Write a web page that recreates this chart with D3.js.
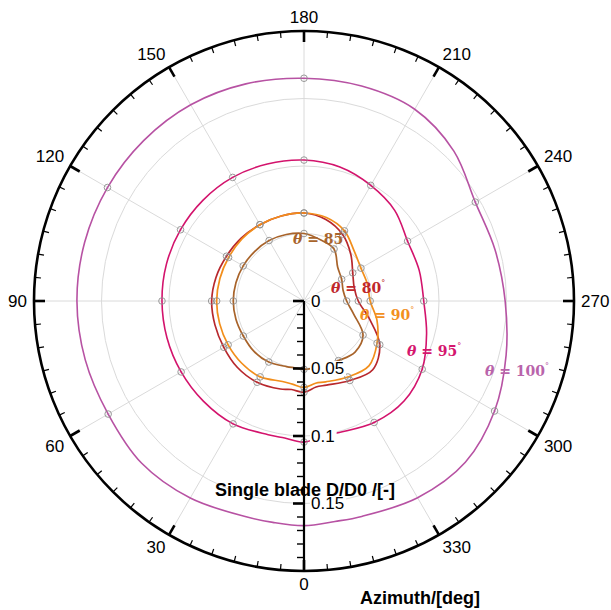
<!DOCTYPE html>
<html>
<head>
<meta charset="utf-8">
<script src="https://cdn.jsdelivr.net/npm/d3@7"></script>
<style>
  html, body { margin: 0; padding: 0; background: #ffffff; }
  svg { display: block; }
</style>
</head>
<body>
<svg id="chart" width="611" height="610"></svg>
<script>
// Azimuth positions (deg) at which the normalised blade D/D0 is sampled
const azimuth = [0, 8, 15, 30, 45, 60, 75, 90, 105, 120, 135, 150, 165, 180,
                 195, 210, 225, 240, 255, 270, 285, 300, 315, 330, 345, 352];

// Single blade D/D0 for each pitch angle theta
const theta80 = [0.0676, 0.0662, 0.0675, 0.0695, 0.0697, 0.0686, 0.0683, 0.0684, 0.0675, 0.0663, 0.0658, 0.0653, 0.0652,
                 0.0652, 0.0625, 0.0570, 0.0490, 0.0417, 0.0385, 0.0402, 0.0500, 0.0648, 0.0720, 0.0680, 0.0645, 0.0643];
const theta85 = [0.0506, 0.0500, 0.0503, 0.0522, 0.0526, 0.0519, 0.0522, 0.0524, 0.0522, 0.0520, 0.0518, 0.0517, 0.0510,
                 0.0500, 0.0470, 0.0445, 0.0353, 0.0322, 0.0300, 0.0316, 0.0382, 0.0505, 0.0535, 0.0510, 0.0500, 0.0502];
const theta90 = [0.0640, 0.0622, 0.0617, 0.0649, 0.0652, 0.0649, 0.0647, 0.0647, 0.0645, 0.0645, 0.0650, 0.0653, 0.0652,
                 0.0652, 0.0640, 0.0600, 0.0525, 0.0487, 0.0486, 0.0490, 0.0560, 0.0625, 0.0680, 0.0650, 0.0620, 0.0615];
const theta95 = [0.1045, 0.1025, 0.1025, 0.1051, 0.1052, 0.1051, 0.1051, 0.1052, 0.1055, 0.1056, 0.1057, 0.1057, 0.1050,
                 0.1044, 0.1027, 0.0989, 0.0950, 0.0886, 0.0883, 0.0887, 0.0940, 0.1011, 0.1048, 0.1039, 0.1008, 0.1010];
const theta100 = [0.1664, 0.1656, 0.1655, 0.1685, 0.1700, 0.1675, 0.1678, 0.1682, 0.1682, 0.1681, 0.1680, 0.1678, 0.1665,
                  0.1650, 0.1648, 0.1640, 0.1570, 0.1465, 0.1465, 0.1490, 0.1550, 0.1630, 0.1690, 0.1683, 0.1652, 0.1649];

const seriesLabels = ["80", "85", "90", "95", "100"];
const seriesColors = ["#b8282d", "#a8632a", "#f28e1b", "#d3136c", "#b752a3"];
const labelColors  = ["#c0282c", "#a8642c", "#f2901e", "#d5166e", "#b964ab"];
const markerStep   = [30, 30, 30, 30, 60];

// Axis ticks
const angleTicks = [0, 30, 60, 90, 120, 150, 180, 210, 240, 270, 300, 330];
const angleTickLabels = ["0", "30", "60", "90", "120", "150", "180", "210", "240", "270", "300", "330"];
const radialTicks = [0, 0.05, 0.1, 0.15];
const radialTickLabels = ["0", "0.05", "0.1", "0.15"];

// ---------------------------------------------------------------
const cx = 304, cy = 301, R = 270;
const svg = d3.select("#chart");
const g = svg.append("g").attr("transform", `translate(${cx},${cy})`);

const rScale = d3.scaleLinear().domain([0, 0.2]).range([0, R]);
// azimuth 0 points down and increases clockwise (down -> left -> up -> right)
const aScale = d3.scaleLinear().domain([0, 360]).range([Math.PI, 3 * Math.PI]);

function polar(a, r) {
  const t = aScale(a);
  return [r * Math.sin(t), -r * Math.cos(t)];
}

// grid circles
g.append("g").selectAll("circle")
  .data([0.05, 0.1, 0.15])
  .join("circle")
  .attr("r", d => rScale(d))
  .attr("fill", "none")
  .attr("stroke", "#dadada")
  .attr("stroke-width", 1);

// spokes
g.append("g").selectAll("line")
  .data(angleTicks)
  .join("line")
  .attr("x1", 0).attr("y1", 0)
  .attr("x2", d => polar(d, R)[0])
  .attr("y2", d => polar(d, R)[1])
  .attr("stroke", "#dadada")
  .attr("stroke-width", 1);

// curves
const series = [theta80, theta85, theta90, theta95, theta100];
const radial = d3.lineRadial()
  .angle(d => aScale(d[0]))
  .radius(d => rScale(d[1]))
  .curve(d3.curveCatmullRomClosed.alpha(0.5));

series.forEach((vals, i) => {
  const pts = azimuth.map((a, k) => [a, vals[k]]);
  g.append("path")
    .attr("d", radial(pts))
    .attr("fill", "none")
    .attr("stroke", seriesColors[i])
    .attr("stroke-width", i >= 3 ? 1.6 : 1.7);
});

// sample markers
series.forEach((vals, i) => {
  const pts = azimuth.map((a, k) => [a, vals[k]])
    .filter(d => d[0] % markerStep[i] === 0 && !(markerStep[i] === 60 && d[0] === 0));
  g.append("g").selectAll("circle")
    .data(pts)
    .join("circle")
    .attr("cx", d => polar(d[0], rScale(d[1]))[0])
    .attr("cy", d => polar(d[0], rScale(d[1]))[1])
    .attr("r", 3.3)
    .attr("fill", "none")
    .attr("stroke", "#8f8f8f")
    .attr("stroke-opacity", 0.9)
    .attr("stroke-width", 1);
});

// outer azimuth circle with inward ticks
g.append("circle")
  .attr("r", R)
  .attr("fill", "none")
  .attr("stroke", "#000")
  .attr("stroke-width", 2.6);

const azTicks = d3.range(0, 360, 5);
g.append("g").selectAll("line")
  .data(azTicks)
  .join("line")
  .attr("x1", d => polar(d, R)[0])
  .attr("y1", d => polar(d, R)[1])
  .attr("x2", d => polar(d, R - (d % 30 === 0 ? 11 : 6))[0])
  .attr("y2", d => polar(d, R - (d % 30 === 0 ? 11 : 6))[1])
  .attr("stroke", "#000")
  .attr("stroke-width", d => d % 30 === 0 ? 2.6 : 1.2);

// azimuth labels
const labR = 277;
g.append("g").selectAll("text")
  .data(angleTicks)
  .join("text")
  .each(function (d, i) {
    const rad = d * Math.PI / 180;
    const dx = -Math.sin(rad), dy = Math.cos(rad);
    const px = labR * dx, py = labR * dy;
    const anchor = Math.abs(dx) < 0.01 ? "middle" : (dx < 0 ? "end" : "start");
    const sy = Math.abs(dy) < 0.01 ? 0 : Math.sign(dy);
    d3.select(this)
      .attr("x", px)
      .attr("y", py + sy * 6.5)
      .attr("text-anchor", anchor)
      .attr("dominant-baseline", "central")
      .text(angleTickLabels[i]);
  })
  .attr("font-family", "'Liberation Sans', Arial, sans-serif")
  .attr("font-size", 17)
  .attr("fill", "#000");

// radial axis (downwards along azimuth 0)
const rAxis = g.append("g");
rAxis.append("line")
  .attr("x1", 0).attr("y1", 0)
  .attr("x2", 0).attr("y2", rScale(0.2))
  .attr("stroke", "#000")
  .attr("stroke-width", 2.2);

const minorR = d3.range(0, 20).map(k => k / 100);
rAxis.selectAll("line.tick")
  .data(minorR)
  .join("line")
  .attr("class", "tick")
  .attr("x1", 0)
  .attr("x2", d => (Math.round(d * 100) % 5 === 0) ? -11 : -7)
  .attr("y1", d => rScale(d))
  .attr("y2", d => rScale(d))
  .attr("stroke", "#000")
  .attr("stroke-width", d => (Math.round(d * 100) % 5 === 0) ? 2.6 : 1.4);

radialTicks.forEach((v, i) => {
  const lg = rAxis.append("g");
  const rect = lg.append("rect").attr("fill", "#fff");
  const t = lg.append("text")
    .attr("x", 7)
    .attr("y", rScale(v))
    .attr("dominant-baseline", "central")
    .attr("font-family", "'Liberation Sans', Arial, sans-serif")
    .attr("font-size", 17)
    .attr("fill", "#000")
    .text(radialTickLabels[i]);
  const bb = t.node().getBBox();
  rect.attr("x", bb.x - 1).attr("y", bb.y + 2)
      .attr("width", bb.width + 3).attr("height", bb.height - 4);
});

// series labels
const labelPos = [[331, 288], [293, 239], [360, 315], [407, 351], [485, 371]];
seriesLabels.forEach((s, i) => {
  const t = svg.append("text")
    .attr("x", labelPos[i][0])
    .attr("y", labelPos[i][1])
    .attr("dominant-baseline", "central")
    .attr("font-family", "'DejaVu Serif', serif")
    .attr("font-weight", "bold")
    .attr("font-size", 14)
    .attr("fill", labelColors[i]);
  t.append("tspan").attr("font-style", "italic").text("θ");
  t.append("tspan").text(" = " + s);
  t.append("tspan").attr("font-size", 8).attr("dy", -6).attr("font-weight", "normal").text("°");
});

// axis titles
svg.append("text")
  .attr("x", 305).attr("y", 496)
  .attr("text-anchor", "middle")
  .attr("font-family", "'Liberation Sans', Arial, sans-serif")
  .attr("font-weight", "bold")
  .attr("font-size", 18)
  .attr("fill", "#000")
  .text("Single blade D/D0 /[-]");

svg.append("text")
  .attr("x", 420).attr("y", 604)
  .attr("text-anchor", "middle")
  .attr("font-family", "'Liberation Sans', Arial, sans-serif")
  .attr("font-weight", "bold")
  .attr("font-size", 18)
  .attr("fill", "#000")
  .text("Azimuth/[deg]");
</script>
</body>
</html>
